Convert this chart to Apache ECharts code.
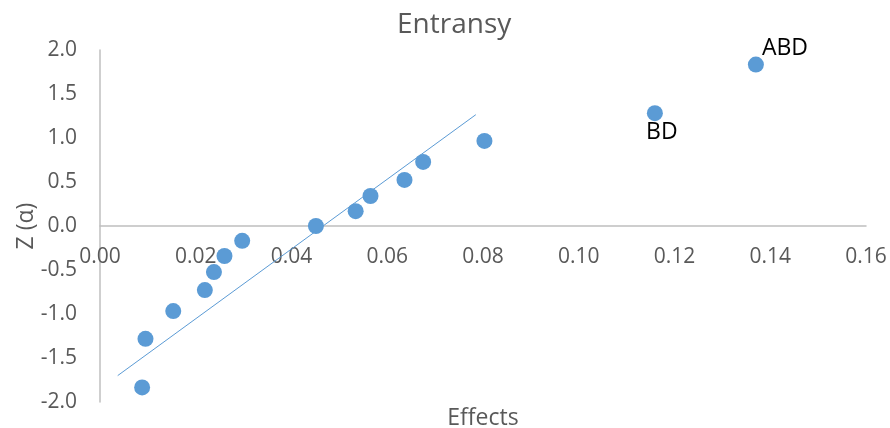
<!DOCTYPE html>
<html>
<head>
<meta charset="utf-8">
<script src="https://cdn.jsdelivr.net/npm/echarts@6/dist/echarts.min.js"></script>
<style>
  html, body { margin: 0; padding: 0; background: #ffffff; }
  #chart { width: 890px; height: 428px; }
</style>
</head>
<body>
<div id="chart"></div>
<script>
// Normal probability plot of the effects (entransy)
const effects = [0.0088, 0.0095, 0.0153, 0.0219, 0.0238, 0.0260, 0.0297, 0.0451,
                 0.0534, 0.0565, 0.0636, 0.0675, 0.0803, 0.1159, 0.1370];
const zScores = [-1.834, -1.282, -0.967, -0.728, -0.524, -0.341, -0.168, 0.000,
                 0.168, 0.341, 0.524, 0.728, 0.967, 1.282, 1.834];
const pointNames = ['', '', '', '', '', '', '', '', '', '', '', '', '', 'BD', 'ABD'];

// Fitted reference line, two end points
const fitX = [0.0037, 0.0785];
const fitY = [-1.70, 1.265];

const xTicks = { min: 0, max: 0.16, step: 0.02 };
const yTicks = { min: -2, max: 2, step: 0.5 };

const blue = '#5B9BD5';
const textGrey = '#595959';
const font = 'Open Sans';

// grid geometry; the x axis (line, labels and name) sits on z = 0
const gridTop = 50;
const gridBottom = 26;
const chartHeight = 428;
const plotHeight = chartHeight - gridTop - gridBottom;
const zeroShift = -plotHeight * (0 - yTicks.min) / (yTicks.max - yTicks.min);

const labelPlacement = {
  ABD: { position: [14, -8.6], align: 'left', verticalAlign: 'middle' },
  BD:  { position: [15, 27.5], align: 'center', verticalAlign: 'middle' }
};

const scatterData = effects.map((x, i) => {
  const item = { value: [x, zScores[i]], name: pointNames[i] };
  const place = labelPlacement[pointNames[i]];
  if (place) {
    item.label = Object.assign({
      show: true,
      formatter: '{b}',
      color: '#000000',
      fontFamily: font,
      fontSize: 23
    }, place);
  }
  return item;
});

const chart = echarts.init(document.getElementById('chart'), null, { renderer: 'canvas' });

chart.setOption({
  animation: false,
  backgroundColor: '#ffffff',
  title: {
    text: 'Entransy',
    left: 392,
    top: 6,
    textStyle: { color: textGrey, fontFamily: font, fontSize: 28, fontWeight: 'normal' }
  },
  grid: { left: 100, right: 24, top: gridTop, bottom: gridBottom, containLabel: false, outerBoundsMode: 'none' },
  xAxis: {
    type: 'value',
    position: 'bottom',
    offset: zeroShift,
    min: xTicks.min,
    max: xTicks.max,
    interval: xTicks.step,
    name: 'Effects',
    nameLocation: 'middle',
    nameGap: 181,
    nameMoveOverlap: false,
    nameTextStyle: { color: textGrey, fontFamily: font, fontSize: 23 },
    axisLine: { show: true, onZero: false, lineStyle: { color: '#BFBFBF', width: 1.5 } },
    axisTick: { show: false },
    splitLine: { show: false },
    axisLabel: {
      color: textGrey, fontFamily: font, fontSize: 21, margin: 21,
      formatter: v => v.toFixed(2)
    }
  },
  yAxis: {
    type: 'value',
    min: yTicks.min,
    max: yTicks.max,
    interval: yTicks.step,
    name: 'Z (α)',
    nameLocation: 'middle',
    nameRotate: 90,
    nameGap: 62,
    nameMoveOverlap: false,
    nameTextStyle: { color: textGrey, fontFamily: font, fontSize: 23 },
    axisLine: { show: true, onZero: false, lineStyle: { color: '#BFBFBF', width: 1.5 } },
    axisTick: { show: false },
    splitLine: { show: false },
    axisLabel: {
      color: textGrey, fontFamily: font, fontSize: 21, margin: 23,
      formatter: v => v.toFixed(1)
    }
  },
  series: [
    {
      type: 'line',
      data: fitX.map((x, i) => [x, fitY[i]]),
      symbol: 'none',
      lineStyle: { color: blue, width: 1 },
      silent: true,
      z: 1
    },
    {
      type: 'scatter',
      data: scatterData,
      symbol: 'circle',
      symbolSize: 16,
      itemStyle: { color: blue, opacity: 1 },
      z: 2
    }
  ]
});
</script>
</body>
</html>
